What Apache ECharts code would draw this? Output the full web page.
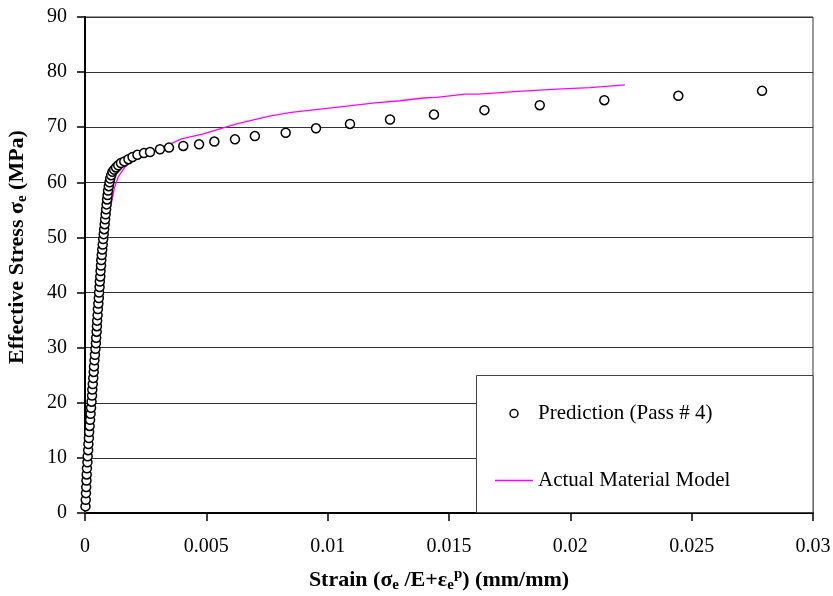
<!DOCTYPE html>
<html>
<head>
<meta charset="utf-8">
<script src="https://cdn.jsdelivr.net/npm/echarts@6/dist/echarts.min.js"></script>
<style>html,body{margin:0;padding:0;background:#fff}#c{width:833px;height:596px}</style>
</head>
<body>
<div id="c"></div>
<script>
// Prediction (Pass # 4): strain (mm/mm), effective stress (MPa)
const predStrain = [0.00002,0.00003,0.00004,0.00005,0.00006,0.00007,0.00008,0.00010,0.00011,0.00013,0.00014,0.00016,0.00017,0.00019,0.00021,0.00023,0.00025,0.00027,0.00029,0.00030,0.00032,0.00034,0.00036,0.00037,0.00039,0.00041,0.00043,0.00045,0.00046,0.00048,0.00049,0.00050,0.00052,0.00053,0.00055,0.00057,0.00058,0.00060,0.00061,0.00063,0.00064,0.00066,0.00067,0.00069,0.00071,0.00073,0.00075,0.00077,0.00079,0.00081,0.00083,0.00085,0.00087,0.00089,0.00091,0.00093,0.00095,0.00098,0.00101,0.00104,0.00108,0.00113,0.00120,0.00128,0.00137,0.00148,0.00162,0.00179,0.00196,0.00216,0.00243,0.00268,0.00309,0.00346,0.00405,0.00470,0.00533,0.00618,0.00700,0.00827,0.00952,0.01092,0.01257,0.01438,0.01646,0.01874,0.0214,0.02445,0.0279];
const predStress = [1.2,2.4,3.6,4.7,5.9,7.0,8.1,9.2,10.3,11.4,12.5,13.6,14.7,15.8,16.9,18.0,19.1,20.2,21.3,22.4,23.4,24.5,25.6,26.6,27.7,28.7,29.8,30.8,31.8,32.9,33.9,34.9,35.9,37.0,38.0,39.0,40.0,41.0,42.0,42.9,43.9,44.9,45.9,46.8,47.8,48.7,49.7,50.6,51.5,52.4,53.3,54.2,55.1,56.0,56.9,57.7,58.5,59.3,60.0,60.7,61.3,61.9,62.3,62.7,63.1,63.5,63.8,64.2,64.6,65.0,65.3,65.5,66.0,66.3,66.6,66.9,67.4,67.8,68.4,69.0,69.8,70.6,71.4,72.3,73.1,74.0,74.9,75.7,76.6];
// Actual Material Model
const actStrain = [0,0.00029,0.00058,0.00075,0.00095,0.0011,0.00121,0.00137,0.00165,0.00199,0.00234,0.00288,0.00343,0.00398,0.00488,0.00556,0.00625,0.00721,0.0076,0.0085,0.0097,0.0107,0.01195,0.01298,0.01394,0.01449,0.01566,0.01621,0.01786,0.01944,0.02081,0.02225];
const actStress = [0,20,40,50,54,56.5,59.0,61.0,62.8,64.1,64.8,65.6,66.8,67.9,68.8,69.7,70.6,71.6,72.0,72.7,73.3,73.8,74.4,74.8,75.3,75.4,76.0,76.0,76.5,76.9,77.2,77.7];
const xTicks = {min:0, max:0.03, interval:0.005};
const yTicks = {min:0, max:90, interval:10};
const seriesNames = ['Prediction (Pass # 4)','Actual Material Model'];

const FONT = 'Liberation Serif';
const chart = echarts.init(document.getElementById('c'), null, {renderer:'canvas'});
const pred = predStrain.map((x,i)=>[x,predStress[i]]);
const act = actStrain.map((x,i)=>[x,actStress[i]]);

chart.setOption({
  animation:false,
  backgroundColor:'#fff',
  grid:{left:85,right:20,top:17,bottom:83,show:true,borderColor:'#333',borderWidth:1,containLabel:false,outerBoundsMode:'none'},
  xAxis:{
    type:'value', min:xTicks.min, max:xTicks.max, interval:xTicks.interval,
    axisLine:{show:true,onZero:false,lineStyle:{color:'#000',width:2}},
    axisTick:{show:true,inside:false,length:8,lineStyle:{color:'#000',width:1.5}},
    axisLabel:{color:'#000',fontFamily:FONT,fontSize:20,margin:24,formatter:v=>String(+v.toFixed(3))},
    splitLine:{show:false},
    name:'{b|Strain (σ}{sub|e}{b| /E+ε}{sub|e}{sup|p}{b|) (mm/mm)}',
    nameLocation:'middle', nameGap:54,
    nameTextStyle:{padding:[0,20,0,0],rich:{
      b:{fontFamily:FONT,fontSize:22,fontWeight:'bold',color:'#000',lineHeight:26,verticalAlign:'middle'},
      sub:{fontFamily:FONT,fontSize:15,fontWeight:'bold',color:'#000',lineHeight:15,verticalAlign:'bottom'},
      sup:{fontFamily:FONT,fontSize:15,fontWeight:'bold',color:'#000',lineHeight:15,verticalAlign:'top'}
    }}
  },
  yAxis:{
    type:'value', min:yTicks.min, max:yTicks.max, interval:yTicks.interval,
    axisLine:{show:true,onZero:false,lineStyle:{color:'#000',width:2}},
    axisTick:{show:true,inside:false,length:8,lineStyle:{color:'#000',width:1.5}},
    axisLabel:{color:'#000',fontFamily:FONT,fontSize:20,margin:18},
    splitLine:{show:true,lineStyle:{color:'#333',width:1}},
    name:'{b|Effective Stress σ}{sub|e}{b| (MPa)}',
    nameLocation:'middle', nameGap:55,
    nameTextStyle:{padding:[0,0,0,36],rich:{
      b:{fontFamily:FONT,fontSize:22,fontWeight:'bold',color:'#000',lineHeight:26,verticalAlign:'middle'},
      sub:{fontFamily:FONT,fontSize:15,fontWeight:'bold',color:'#000',lineHeight:15,verticalAlign:'bottom'}
    }}
  },
  graphic:[{type:'rect',z:3,silent:true,shape:{x:476.5,y:375.5,width:336.5,height:137},style:{fill:'#fff',stroke:'#444',lineWidth:1}}],
  legend:{
    orient:'vertical', left:490, top:398, itemWidth:38, itemHeight:8, itemGap:46, z:5,
    textStyle:{fontFamily:FONT,fontSize:21,color:'#000'},
    data:[
      {name:seriesNames[0],icon:'circle',itemStyle:{color:'#fff',borderColor:'#000',borderWidth:1.5}},
      {name:seriesNames[1],icon:'path://M0,0L40,0L40,1.4L0,1.4Z',itemStyle:{color:'#ff00ff'}}
    ]
  },
  series:[
    {name:seriesNames[1],type:'line',data:act,showSymbol:false,symbol:'none',z:2,
     lineStyle:{color:'#ff00ff',width:1.3},itemStyle:{color:'#ff00ff'}},
    {name:seriesNames[0],type:'scatter',data:pred,symbol:'circle',symbolSize:9,z:3,
     itemStyle:{color:'#fff',borderColor:'#000',borderWidth:1.5,opacity:1}}
  ]
});
</script>
</body>
</html>
